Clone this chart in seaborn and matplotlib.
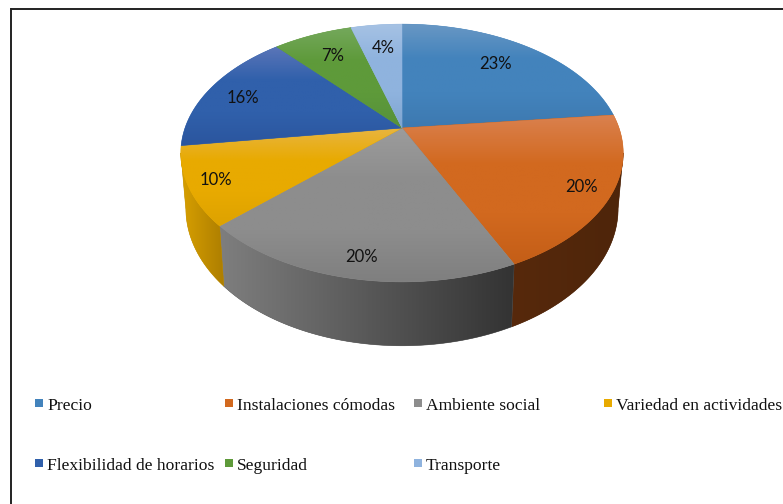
import numpy as np
import pandas as pd
import matplotlib
matplotlib.use("Agg")
import matplotlib.pyplot as plt
import seaborn as sns
from matplotlib.patches import Polygon

# ============================================================
# DATA
# ============================================================
categories = ["Precio", "Instalaciones cómodas", "Ambiente social", "Variedad en actividades",
              "Flexibilidad de horarios", "Seguridad", "Transporte"]
values = [23.3, 19.7, 20.0, 9.8, 15.7, 7.0, 4.5]
value_labels = ["23%", "20%", "20%", "10%", "16%", "7%", "4%"]

# ============================================================
# STYLE
# ============================================================
base_colors = ["#4383bc", "#d2691f", "#8d8d8d", "#e8aa00", "#3060ab", "#5e9a3a", "#8fb3de"]
top_colors = ["#6897c4", "#da814f", "#9c9c9c", "#e8b53f", "#5a75b8", "#74a85c", "#a6c2e4"]
low_colors = ["#3d79b0", "#c45e17", "#7f7f7f", "#dda200", "#2b559e", "#56913a", "#7fa5d0"]
side_left = ["#4383bc", "#57290c", "#7e7e7e", "#d8a000", "#3060ab", "#5e9a3a", "#8fb3de"]
side_right = ["#4383bc", "#4e250a", "#333333", "#ad7e00", "#3060ab", "#5e9a3a", "#8fb3de"]

label_pos = [(496, 63), (581, 186), (361, 256), (216, 179), (243, 97), (333, 55), (383, 47)]
legend_x = [39, 229, 418, 608, 39, 229, 418]
legend_y = [403, 403, 403, 403, 463, 463, 463]

CX = 402
PERSP = 0.194  # 3d perspective of the pie


def project(f, hub_y, r, s):
    t = 2 * np.pi * np.asarray(f)
    den = 1 + PERSP * np.cos(t)
    return CX + r * np.sin(t) / den, hub_y - s * np.cos(t) / den


def top_xy(f):
    return project(f, 128, 217, 124)


def low_xy(f):
    return project(f, 182, 212, 132)


def fill_gradient(ax, xy, colors, vertical=True):
    # poligon dasar + gambar gradient yang di-clip
    patch = Polygon(xy, closed=True, facecolor=colors[1], edgecolor=colors[1], lw=0.4, zorder=ax.zo)
    ax.add_patch(patch)
    x0, y0 = xy.min(axis=0)
    x1, y1 = xy.max(axis=0)
    n = 128
    pal = np.array(sns.blend_palette(colors, n))
    grad = pal[:, None, :] if vertical else pal[None, :, :]
    im = ax.imshow(grad, extent=(x0, x1, y1, y0), origin="upper", aspect="auto",
                   interpolation="bilinear", zorder=ax.zo + 0.1)
    im.set_clip_path(patch)
    ax.zo += 1


sns.set_theme(style="white")
fig = plt.figure(figsize=(7.83, 5.04), dpi=100, facecolor="white")
ax = fig.add_axes([0, 0, 1, 1])
ax.zo = 2

edges = np.cumsum([0] + values) / sum(values)

# ============================================================
# SIDE OF THE PIE
# ============================================================
vis0, vis1 = 0.281, 0.719
for i in range(len(values)):
    a, b = max(edges[i], vis0), min(edges[i + 1], vis1)
    if a >= b:
        continue
    f = np.linspace(a, b, 80)
    xt, yt = top_xy(f)
    xb, yb = low_xy(f)
    if i == 3:
        # sisi kuning menyatu dengan tepi atas di ujung kiri
        xb[-1], yb[-1] = xt[-1], yt[-1]
    xy = np.column_stack([np.r_[xt, xb[::-1]], np.r_[yt, yb[::-1]]])
    # sisi digambar dari kiri ke kanan
    mid = sns.blend_palette([side_left[i], side_right[i]], 3)[1]
    fill_gradient(ax, xy, [side_left[i], mid, side_right[i]], vertical=False)

# ============================================================
# TOP OF THE PIE
# ============================================================
for i in range(len(values)):
    f = np.linspace(edges[i], edges[i + 1], 120)
    x, y = top_xy(f)
    xy = np.column_stack([np.r_[CX, x], np.r_[128, y]])
    fill_gradient(ax, xy, [top_colors[i], base_colors[i], base_colors[i], low_colors[i]])

for lab, (x, y) in zip(value_labels, label_pos):
    ax.text(x, y + 1, lab, ha="center", va="center", fontsize=12, family="Lato",
            color="#111111", zorder=50)

# ============================================================
# LEGEND + FRAME
# ============================================================
df = pd.DataFrame({"x": legend_x, "y": legend_y, "cat": categories})
sns.scatterplot(data=df, x="x", y="y", hue="cat", palette=base_colors, marker="s", s=36,
                linewidth=0, legend=False, ax=ax, zorder=50)
for lab, x, y in zip(categories, legend_x, legend_y):
    ax.text(x + 8, y + 2.5, lab, ha="left", va="center", fontsize=12.6, family="Liberation Serif",
            color="#111111", zorder=50)

ax.plot([11, 11], [8, 504], color="#222222", lw=1.4, zorder=60, solid_capstyle="butt")
ax.plot([11, 783], [8.5, 8.5], color="#222222", lw=1.4, zorder=60, solid_capstyle="butt")

ax.set_xlim(0, 783)
ax.set_ylim(504, 0)
ax.set_xlabel("")
ax.set_ylabel("")
ax.axis("off")

plt.savefig("out.png", dpi=100)
plt.close()
